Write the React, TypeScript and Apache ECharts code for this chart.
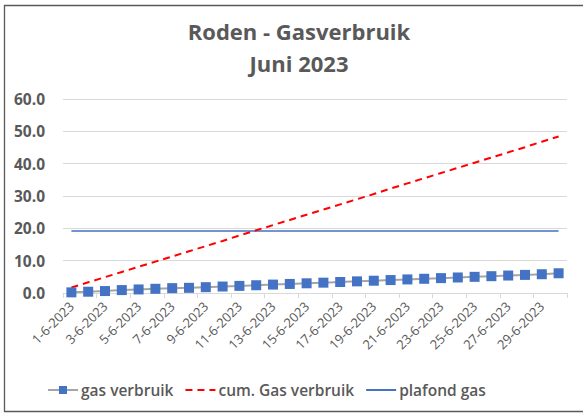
import React, { useEffect, useRef } from "react";
import * as echarts from "echarts";

const categories = [
  "1-6-2023","2-6-2023","3-6-2023","4-6-2023","5-6-2023","6-6-2023","7-6-2023","8-6-2023","9-6-2023","10-6-2023",
  "11-6-2023","12-6-2023","13-6-2023","14-6-2023","15-6-2023","16-6-2023","17-6-2023","18-6-2023","19-6-2023","20-6-2023",
  "21-6-2023","22-6-2023","23-6-2023","24-6-2023","25-6-2023","26-6-2023","27-6-2023","28-6-2023","29-6-2023","30-6-2023",
];
const gasVerbruik = [
  0.2, 0.4, 0.6, 0.9, 1.1, 1.3, 1.5, 1.6, 1.8, 2.0,
  2.2, 2.4, 2.6, 2.8, 3.0, 3.2, 3.4, 3.6, 3.8, 4.0,
  4.2, 4.4, 4.6, 4.8, 5.0, 5.2, 5.4, 5.6, 5.8, 6.1,
];
const cumGasVerbruik = [
  1.7, 3.3, 4.9, 6.5, 8.1, 9.7, 11.3, 12.9, 14.5, 16.1,
  17.8, 19.4, 21.0, 22.6, 24.2, 25.8, 27.4, 29.0, 30.6, 32.3,
  33.9, 35.5, 37.1, 38.7, 40.3, 41.9, 43.5, 45.1, 46.8, 48.4,
];
const plafondGas = [
  19.2, 19.2, 19.2, 19.2, 19.2, 19.2, 19.2, 19.2, 19.2, 19.2,
  19.2, 19.2, 19.2, 19.2, 19.2, 19.2, 19.2, 19.2, 19.2, 19.2,
  19.2, 19.2, 19.2, 19.2, 19.2, 19.2, 19.2, 19.2, 19.2, 19.2,
];
const seriesNames = ["gas verbruik", "cum. Gas verbruik", "plafond gas"];
const titleText = "Roden - Gasverbruik\nJuni 2023";

const FONT = "'Open Sans', 'Noto Sans', sans-serif";
const GRAY = "#595959";

export default function App() {
  const ref = useRef<HTMLDivElement>(null);
  useEffect(() => {
    document.body.style.margin = "0";
    const chart = echarts.init(ref.current!, undefined, { renderer: "svg" });
    chart.setOption({
      animation: false,
      backgroundColor: "#ffffff",
      textStyle: { fontFamily: FONT },
      title: {
        text: titleText,
        left: 294,
        top: 10,
        textAlign: "center",
        textStyle: { fontSize: 22, fontWeight: "bold", color: GRAY, lineHeight: 32, fontFamily: FONT },
      },
      graphic: [
        {
          type: "rect",
          shape: { x: 4.5, y: 5.5, width: 620, height: 406 },
          style: { fill: "none", stroke: "#595959", lineWidth: 1.3 },
          silent: true,
        },
      ],
      grid: { left: 63, right: 16, top: 99, bottom: 120, containLabel: false },
      legend: {
        left: 42,
        top: 377,
        itemGap: 11,
        itemWidth: 30,
        itemHeight: 10,
        textStyle: { fontSize: 15.5, color: GRAY, fontWeight: 600, fontFamily: FONT, padding: [0, 0, 0, -2] },
        data: [
          { name: seriesNames[0] },
          { name: seriesNames[1], itemStyle: { opacity: 0 } },
          { name: seriesNames[2], itemStyle: { opacity: 0 } },
        ],
      },
      xAxis: {
        type: "category",
        data: categories,
        boundaryGap: true,
        axisLine: { lineStyle: { color: "#d9d9d9", width: 1 } },
        axisTick: { show: true, interval: 1, length: 5, lineStyle: { color: "#d9d9d9" } },
        axisLabel: {
          interval: 1,
          rotate: 45,
          fontSize: 13,
          color: GRAY,
          fontFamily: FONT,
          margin: 11,
        },
      },
      yAxis: {
        type: "value",
        min: 0,
        max: 60,
        interval: 10,
        axisLine: { show: false },
        axisTick: { show: false },
        splitLine: { lineStyle: { color: "#d9d9d9", width: 1 } },
        axisLabel: {
          formatter: (v: number) => v.toFixed(1),
          fontSize: 15.5,
          fontWeight: "bold",
          color: GRAY,
          fontFamily: FONT,
          margin: 18,
        },
      },
      series: [
        {
          name: seriesNames[0],
          type: "line",
          data: gasVerbruik,
          symbol: "rect",
          symbolSize: 10,
          itemStyle: { color: "#4472c4" },
          lineStyle: { color: "#a5a5a5", width: 2 },
          z: 4,
        },
        {
          name: seriesNames[1],
          type: "line",
          data: cumGasVerbruik,
          symbol: "none",
          itemStyle: { color: "#ff0000" },
          lineStyle: { color: "#ff0000", width: 2, type: [7, 5] },
          z: 3,
        },
        {
          name: seriesNames[2],
          type: "line",
          data: plafondGas,
          symbol: "none",
          itemStyle: { color: "#4472c4" },
          lineStyle: { color: "#4472c4", width: 1.5 },
          z: 2,
        },
      ],
    });
    return () => chart.dispose();
  }, []);
  return <div ref={ref} style={{ width: 583, height: 413 }} />;
}
